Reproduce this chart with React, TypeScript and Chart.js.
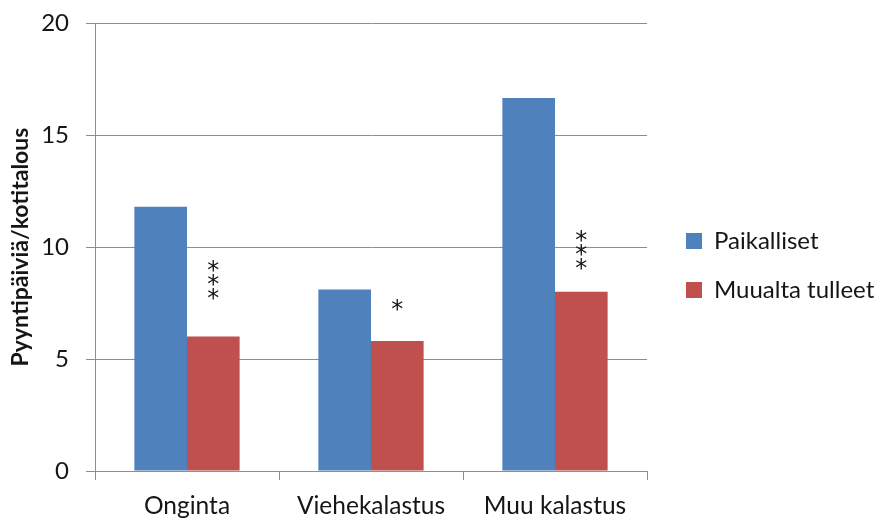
import React, { useEffect, useRef } from "react";
import { Chart, registerables } from "chart.js";

Chart.register(...registerables);

const categories = ["Onginta", "Viehekalastus", "Muu kalastus"];
const seriesNames = ["Paikalliset", "Muualta tulleet"];
const paikalliset = [11.8, 8.1, 16.65];
const muualtaTulleet = [6.0, 5.8, 8.0];
const significance = ["***", "*", "***"];
const significanceLevel = [7.95, 7.45, 9.3];
const yTicks = [0, 5, 10, 15, 20];
const yTitle = "Pyyntipäiviä/kotitalous";

const FONT = "Lato, 'Open Sans', sans-serif";
const TEXT = "#151515";
const GRID = "#8e8e8e";
const BLUE = "#4F81BD";
const RED = "#C0504D";

const legendPlacement = {
  id: "legendPlacement",
  afterInit(chart: any) {
    const legend = chart.legend;
    if (!legend) return;
    const fit = legend.fit.bind(legend);
    legend.fit = () => {
      fit();
      legend.width = 230;
    };
  },
  afterLayout(chart: any) {
    const legend = chart.legend;
    if (!legend) return;
    legend.left += 14;
    legend.top += 13;
  },
};

const starMarks = {
  id: "starMarks",
  afterDatasetsDraw(chart: any) {
    const meta = chart.getDatasetMeta(1);
    const yScale = chart.scales.y;
    const ctx = chart.ctx;
    ctx.save();
    ctx.fillStyle = TEXT;
    ctx.font = `24px 'DejaVu Sans', sans-serif`;
    ctx.textAlign = "center";
    ctx.textBaseline = "alphabetic";
    significance.forEach((s, i) => {
      const bar = meta.data[i];
      if (!bar) return;
      const base = yScale.getPixelForValue(significanceLevel[i]);
      for (let k = 0; k < s.length; k++) {
        ctx.fillText("*", bar.x, base - k * 14 + 13);
      }
    });
    ctx.restore();
  },
};

export default function App() {
  const ref = useRef<HTMLCanvasElement | null>(null);

  useEffect(() => {
    if (!ref.current) return;
    const chart = new Chart(ref.current, {
      type: "bar",
      data: {
        labels: categories,
        datasets: [
          {
            label: seriesNames[0],
            data: paikalliset,
            backgroundColor: BLUE,
            borderWidth: 0,
            categoryPercentage: 0.572,
            barPercentage: 1,
          },
          {
            label: seriesNames[1],
            data: muualtaTulleet,
            backgroundColor: RED,
            borderWidth: 0,
            categoryPercentage: 0.572,
            barPercentage: 1,
          },
        ],
      },
      options: {
        responsive: false,
        animation: false,
        layout: { padding: { top: 0, left: 0, right: 0, bottom: 0 } },
        plugins: {
          tooltip: { enabled: false },
          legend: {
            position: "right",
            align: "center",
            labels: {
              boxWidth: 16,
              boxHeight: 16,
              padding: 25,
              color: TEXT,
              font: { family: FONT, size: 24 },
            },
          },
        },
        scales: {
          x: {
            offset: true,
            grid: {
              display: true,
              offset: true,
              drawOnChartArea: false,
              drawTicks: true,
              tickLength: 9,
              color: GRID,
            },
            border: { display: true, color: GRID },
            ticks: {
              color: TEXT,
              padding: 11,
              font: { family: FONT, size: 24.5 },
              maxRotation: 0,
            },
            afterFit(scale: any) {
              scale.height = 47;
            },
          },
          y: {
            min: 0,
            max: 20,
            afterBuildTicks(scale: any) {
              scale.ticks = yTicks.map((v) => ({ value: v }));
            },
            grid: { color: GRID, tickLength: 9, lineWidth: 1 },
            border: { display: true, color: GRID },
            ticks: {
              color: TEXT,
              padding: 17,
              font: { family: FONT, size: 24 },
            },
            title: {
              display: true,
              text: yTitle,
              color: TEXT,
              font: { family: FONT, size: 23, weight: "bold" },
              padding: { top: 7, bottom: 0 },
            },
            afterFit(scale: any) {
              scale.width = 95;
              scale.paddingTop = 23;
              scale.paddingBottom = 0;
            },
          },
        },
      },
      plugins: [legendPlacement, starMarks],
    });
    return () => chart.destroy();
  }, []);

  return (
    <div style={{ position: "fixed", left: 0, top: 0, width: 877, height: 518, background: "#fff" }}>
      <canvas ref={ref} width={877} height={518} />
    </div>
  );
}
